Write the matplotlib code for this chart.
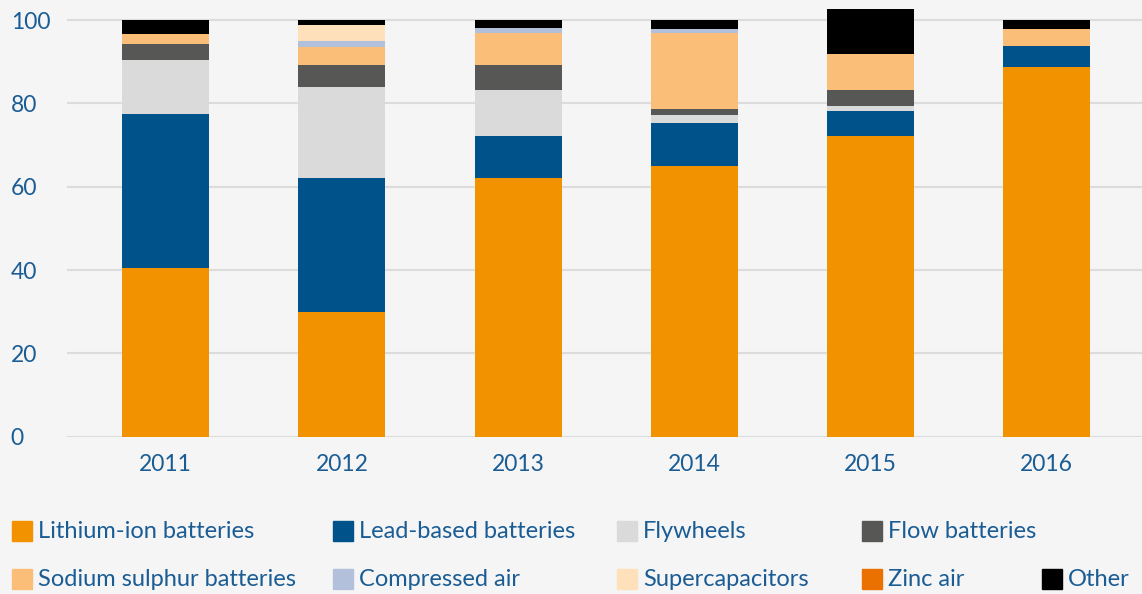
import matplotlib
matplotlib.use("Agg")
import matplotlib.pyplot as plt
from matplotlib.patches import Rectangle
import numpy as np

years = ["2011", "2012", "2013", "2014", "2015", "2016"]

lithium = [40.5, 29.9, 62.2, 65.0, 72.2, 88.8]
lead = [37.0, 32.3, 10.0, 10.4, 6.0, 5.0]
flywheels = [13.0, 21.8, 11.1, 1.9, 1.2, 0.0]
flow = [3.8, 5.3, 6.0, 1.4, 3.9, 0.0]
sodium = [2.4, 4.3, 7.7, 18.3, 8.6, 4.1]
compressed = [0.0, 1.4, 1.2, 0.9, 0.0, 0.0]
supercap = [0.0, 3.9, 0.0, 0.0, 0.0, 0.0]
zinc = [0.0, 0.0, 0.0, 0.0, 0.0, 0.0]
other = [3.3, 1.1, 1.8, 2.1, 10.8, 2.1]

series = [
    ("Lithium-ion batteries", lithium, "#f39200"),
    ("Lead-based batteries", lead, "#00538a"),
    ("Flywheels", flywheels, "#dadada"),
    ("Flow batteries", flow, "#575756"),
    ("Sodium sulphur batteries", sodium, "#fbbe78"),
    ("Compressed air", compressed, "#b3c0dc"),
    ("Supercapacitors", supercap, "#fee0bb"),
    ("Zinc air", zinc, "#ea7000"),
    ("Other", other, "#000000"),
]

BG = "#f5f5f5"
TXT = "#1a5c94"
GRID = "#dcdcdc"

plt.rcParams["font.family"] = ["Lato", "DejaVu Sans"]

fig = plt.figure(figsize=(11.42, 5.94), dpi=100, facecolor=BG)
ax = fig.add_axes([67 / 1142, 1 - 436.7 / 594, 1 - 67 / 1142, 436.7 / 594])
ax.set_facecolor(BG)

x = np.arange(len(years))
bottom = np.zeros(len(years))
for name, vals, col in series:
    v = np.array(vals)
    ax.bar(x, v, 0.494, bottom=bottom, color=col, zorder=3, linewidth=0)
    bottom += v

ax.set_xlim(-0.56, 5.54)
ax.set_ylim(0, 104.8)
ax.set_yticks([0, 20, 40, 60, 80, 100])
ax.set_xticks(x)
ax.set_xticklabels(years)
ax.grid(axis="y", color=GRID, linewidth=1.5, zorder=0)
for s in ax.spines.values():
    s.set_visible(False)
ax.tick_params(axis="both", length=0, colors=TXT, labelsize=16.5)
ax.tick_params(axis="x", pad=12.5)
ax.tick_params(axis="y", pad=40.5)
for lab in ax.get_yticklabels():
    lab.set_horizontalalignment("left")

# legend laid out by hand to match the reference grid
cols_x = [12, 333, 617, 862, 1042]
rows_y = [531, 579]
slots = [(0, 0), (1, 0), (2, 0), (3, 0),
         (0, 1), (1, 1), (2, 1), (3, 1), (4, 1)]
sq = 20
W, H = 1142, 594
for (name, _, col), (ci, ri) in zip(series, slots):
    px, py = cols_x[ci], rows_y[ri]
    fig.patches.append(Rectangle((px / W, 1 - (py + sq / 2) / H), sq / W, sq / H,
                                 transform=fig.transFigure, color=col, figure=fig))
    fig.text((px + sq + 6) / W, 1 - py / H, name, color=TXT, fontsize=17,
             va="center", ha="left")

fig.savefig("out.png", dpi=100, facecolor=BG)
